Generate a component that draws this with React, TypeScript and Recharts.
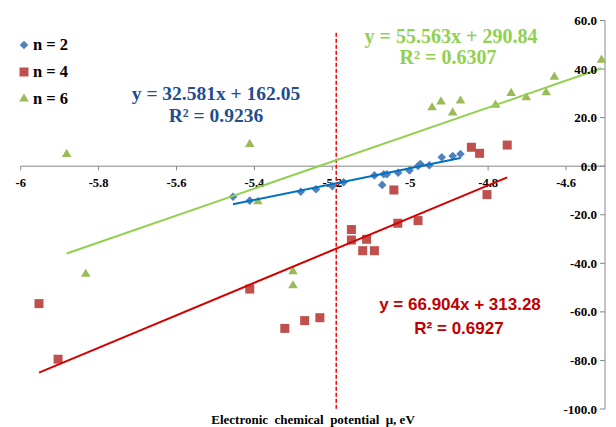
import React from 'react';
import { ScatterChart, Scatter, XAxis, YAxis, ReferenceLine, ReferenceDot, Legend } from 'recharts';

const n2X = [-5.455, -5.412, -5.281, -5.242, -5.2, -5.171, -5.092, -5.072, -5.068, -5.06, -5.031, -5.002, -4.98, -4.974, -4.951, -4.919, -4.891, -4.871];
const n2Y = [-12.6, -14.2, -10.5, -9.5, -8.2, -6.6, -3.8, -7.7, -3.3, -3.3, -2.7, -1.8, 0.1, 0.9, 0.4, 3.7, 4.2, 5.0];

const n4X = [-5.953, -5.904, -5.412, -5.322, -5.271, -5.232, -5.151, -5.151, -5.122, -5.112, -5.092, -5.042, -5.032, -4.98, -4.843, -4.822, -4.803, -4.751];
const n4Y = [-56.6, -79.5, -50.6, -66.8, -63.6, -62.4, -26.1, -30.4, -34.8, -30.1, -34.8, -9.8, -23.5, -22.4, 7.8, 5.3, -11.7, 8.7];

const n6X = [-5.882, -5.833, -5.412, -5.391, -5.301, -5.301, -4.944, -4.921, -4.891, -4.871, -4.781, -4.741, -4.702, -4.651, -4.63, -4.509];
const n6Y = [5.3, -44.1, 9.4, -14.2, -43.0, -48.8, 24.5, 26.9, 22.4, 27.3, 25.6, 30.4, 28.6, 30.7, 37.1, 44.1];

// trendline coefficients shown on the chart: [slope, intercept]
const n2Fit = [32.581, 162.05];
const n4Fit = [66.904, 313.28];
const n6Fit = [55.563, 290.84];

const seriesNames = ['n = 2', 'n = 4', 'n = 6'];
const eqTexts = [
  ['y = 32.581x + 162.05', 'R² = 0.9236'],
  ['y = 66.904x + 313.28', 'R² = 0.6927'],
  ['y = 55.563x + 290.84', 'R² = 0.6307'],
];

const xTicks = [-6, -5.8, -5.6, -5.4, -5.2, -5, -4.8, -4.6];
const xTickLabels = ['-6', '-5.8', '-5.6', '-5.4', '-5.2', '-5', '-4.8', '-4.6'];
const yTicks = [-100, -80, -60, -40, -20, 0, 20, 40, 60];
const markerLineX = -5.19;
const markerLineTop = 55;

const xTitle = 'Electronic  chemical  potential  μ, eV';

const toPts = (xs: number[], ys: number[]) => xs.map((x, i) => ({ x, y: ys[i] }));
const fitPts = (xs: number[], fit: number[]) => {
  const lo = Math.min(...xs);
  const hi = Math.max(...xs);
  return [{ x: lo, y: fit[0] * lo + fit[1] }, { x: hi, y: fit[0] * hi + fit[1] }];
};

const SERIF = "'Liberation Serif', 'Times New Roman', serif";
const SANS = "'Liberation Sans', Arial, sans-serif";
const AXIS = '#868686';
const C_BLUE = '#4F81BD';
const C_RED = '#C0504D';
const C_GREEN = '#9BBB59';

const Diamond = (p: any) => {
  const { cx, cy } = p;
  if (cx == null || cy == null) return <g />;
  const r = 4.3;
  return <polygon points={`${cx},${cy - r} ${cx + r},${cy} ${cx},${cy + r} ${cx - r},${cy}`} fill={C_BLUE} />;
};
const Square = (p: any) => {
  const { cx, cy } = p;
  if (cx == null || cy == null) return <g />;
  const r = 4.5;
  return <rect x={cx - r} y={cy - r} width={2 * r} height={2 * r} fill={C_RED} />;
};
const Triangle = (p: any) => {
  const { cx, cy } = p;
  if (cx == null || cy == null) return <g />;
  return <polygon points={`${cx},${cy - 4.5} ${cx + 4.8},${cy + 3.6} ${cx - 4.8},${cy + 3.6}`} fill={C_GREEN} />;
};
const NoShape = () => <g />;

const renderLegend = () => (
  <svg width={110} height={80} style={{ display: 'block' }}>
    <polygon points="24,10.7 28.3,15 24,19.3 19.7,15" fill={C_BLUE} />
    <text x={33} y={20} fontFamily={SERIF} fontWeight="bold" fontSize={16.5} fill="#000">{seriesNames[0]}</text>
    <rect x={19.5} y={37.5} width={9} height={9} fill={C_RED} />
    <text x={33} y={47} fontFamily={SERIF} fontWeight="bold" fontSize={16.5} fill="#000">{seriesNames[1]}</text>
    <polygon points="24,63.5 28.8,71.6 19.2,71.6" fill={C_GREEN} />
    <text x={33} y={74} fontFamily={SERIF} fontWeight="bold" fontSize={16.5} fill="#000">{seriesNames[2]}</text>
  </svg>
);

export default function App() {
  return (
    <div style={{ position: 'absolute', left: 0, top: 0, width: 616, height: 427, background: '#fff' }}>
      <ScatterChart width={616} height={427} margin={{ top: 20.5, right: 11, bottom: 18, left: 20.7 }}>
        <XAxis type="number" dataKey="x" domain={[-6, -4.5]} hide />
        <YAxis
          type="number"
          dataKey="y"
          orientation="right"
          mirror
          width={11}
          domain={[-100, 60]}
          ticks={yTicks}
          interval={0}
          tickFormatter={(v: number) => v.toFixed(1)}
          tickSize={5}
          tickMargin={3}
          axisLine={{ stroke: AXIS }}
          tickLine={{ stroke: AXIS }}
          tick={{ fill: '#000', fontSize: 13, fontWeight: 'bold', fontFamily: SERIF }}
        />
        <ReferenceLine y={0} stroke={AXIS} strokeWidth={1} />
        {xTicks.map((t) => (
          <ReferenceLine key={'tk' + t} segment={[{ x: t, y: 0 }, { x: t, y: -1.7 }]} stroke={AXIS} strokeWidth={1} />
        ))}
        {xTicks.map((t, i) => (
          <ReferenceDot
            key={'tl' + t}
            x={t}
            y={0}
            r={0}
            fill="none"
            stroke="none"
            label={(p: any) => (
              <text
                x={p.viewBox.x}
                y={p.viewBox.y + 21}
                textAnchor="middle"
                fontFamily={SERIF}
                fontWeight="bold"
                fontSize={12.5}
                fill="#000"
              >
                {xTickLabels[i]}
              </text>
            )}
          />
        ))}
        <Scatter name={seriesNames[0]} data={toPts(n2X, n2Y)} shape={Diamond} isAnimationActive={false} />
        <Scatter name={seriesNames[1]} data={toPts(n4X, n4Y)} shape={Square} isAnimationActive={false} />
        <Scatter name={seriesNames[2]} data={toPts(n6X, n6Y)} shape={Triangle} isAnimationActive={false} />
        <Scatter data={fitPts(n2X, n2Fit)} line={{ stroke: '#0070C0', strokeWidth: 2 }} shape={NoShape} legendType="none" isAnimationActive={false} />
        <Scatter data={fitPts(n4X, n4Fit)} line={{ stroke: '#D40000', strokeWidth: 2 }} shape={NoShape} legendType="none" isAnimationActive={false} />
        <Scatter data={fitPts(n6X, n6Fit)} line={{ stroke: '#92D050', strokeWidth: 2 }} shape={NoShape} legendType="none" isAnimationActive={false} />
        <ReferenceLine
          segment={[{ x: markerLineX, y: markerLineTop }, { x: markerLineX, y: -100 }]}
          stroke="#FF0000"
          strokeWidth={1.5}
          strokeDasharray="4 2"
        />
        <Legend
          layout="vertical"
          align="center"
          verticalAlign="middle"
          content={renderLegend}
          wrapperStyle={{ left: 0, top: 30, width: 110, height: 80 }}
        />
      </ScatterChart>
      <svg width={616} height={427} style={{ position: 'absolute', left: 0, top: 0, pointerEvents: 'none' }}>
        <text x={216} y={100} textAnchor="middle" fontFamily={SERIF} fontWeight="bold" fontSize={19.5} fill="#1F4E8F">{eqTexts[0][0]}</text>
        <text x={216} y={122} textAnchor="middle" fontFamily={SERIF} fontWeight="bold" fontSize={19.5} fill="#1F4E8F">{eqTexts[0][1]}</text>
        <text x={451} y={43} textAnchor="middle" fontFamily={SERIF} fontWeight="bold" fontSize={20} fill="#92D050">{eqTexts[2][0]}</text>
        <text x={448} y={64} textAnchor="middle" fontFamily={SERIF} fontWeight="bold" fontSize={20} fill="#92D050">{eqTexts[2][1]}</text>
        <text x={460} y={310} textAnchor="middle" fontFamily={SANS} fontWeight="bold" fontSize={17} fill="#C00000">{eqTexts[1][0]}</text>
        <text x={459} y={334} textAnchor="middle" fontFamily={SANS} fontWeight="bold" fontSize={17} fill="#C00000">{eqTexts[1][1]}</text>
        <text x={313} y={424} textAnchor="middle" fontFamily={SERIF} fontWeight="bold" fontSize={13} fill="#000" style={{ whiteSpace: 'pre' }}>{xTitle}</text>
      </svg>
    </div>
  );
}
